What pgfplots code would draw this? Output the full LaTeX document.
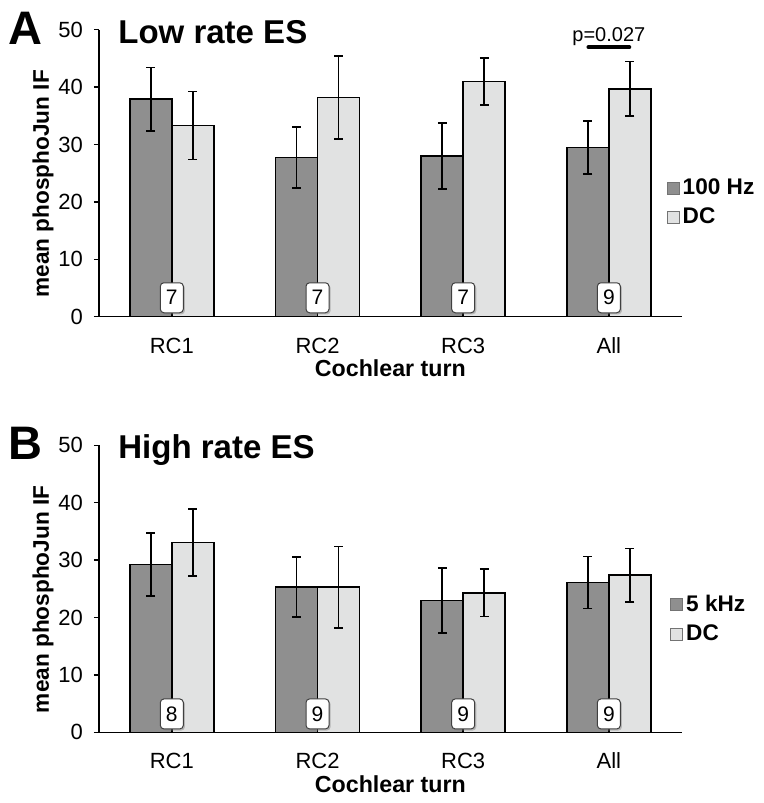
\documentclass[border=0pt]{standalone}
\usepackage{pgfplots}
\pgfplotsset{compat=1.18}
\usepackage{fontspec}
\setmainfont{Liberation Sans}
\usetikzlibrary{shadows}
\definecolor{darkbar}{HTML}{8F8F8F}
\definecolor{lightbar}{HTML}{E1E2E2}

\pgfplotstableread{
x  a     ae    b     be
0  37.9  5.5   33.3  5.9
1  27.7  5.3   38.2  7.2
2  28.0  5.75  41.0  4.1
3  29.5  4.6   39.7  4.75
}\tabA
\pgfplotstableread{
x  a     ae    b     be
0  29.2  5.5   33.1  5.85
1  25.3  5.25  25.3  7.1
2  23.0  5.65  24.3  4.1
3  26.1  4.5   27.4  4.65
}\tabB

\tikzset{
  nbox/.style={draw=black!75, fill=white, rounded corners=1.8pt, line width=0.5pt,
    minimum width=11.5pt, minimum height=15pt, inner sep=0pt,
    font=\fontsize{10.5}{12}\selectfont,
    drop shadow={shadow xshift=0.8pt, shadow yshift=-0.8pt, opacity=0.45}},
}
\pgfplotsset{
  panel/.style={
    width=291.35pt, height=143.5pt, scale only axis,
    anchor=south west,
    axis lines*=left,
    axis line style={line width=0.75pt},
    x axis line style={shorten <=-2.5pt},
    xmin=-0.5, xmax=3.5, ymin=0, ymax=50,
    xtick={0,1,2,3}, xticklabels={RC1,RC2,RC3,All},
    ytick={0,10,20,30,40,50},
    /pgf/number format/assume math mode=true,
    tick align=outside, major tick length=2.5pt,
    xtick style={draw=none},
    ytick style={line width=0.75pt, black},
    tick label style={font=\fontsize{11}{13}\selectfont},
    yticklabel style={xshift=-2pt},
    xticklabel style={anchor=base, yshift=-15.8pt},
    ylabel={mean phosphoJun IF},
    ylabel style={font=\bfseries\fontsize{11.3}{13}\selectfont, at={(axis description cs:-0.096,0.463)}, anchor=center},
    xlabel={Cochlear turn},
    xlabel style={font=\bfseries\fontsize{11.6}{13}\selectfont, at={(axis description cs:0.5,-0.209)}, anchor=base},
    ybar=0pt, bar width=21pt,
    clip=false,
    legend cell align=left,
    legend style={draw=none, fill=none, anchor=west, inner sep=0pt, row sep=3pt,
      font=\bfseries\fontsize{11.3}{13}\selectfont,
      nodes={inner xsep=1.5pt, inner ysep=1.2pt}},
  },
  sq/.style={legend image code/.code={\draw[##1, draw=black!55, line width=0.4pt] (0pt,-3pt) rectangle (6pt,3pt);}},
  errs/.style={error bars/.cd, y dir=both, y explicit,
    error bar style={line width=0.8pt, black},
    error mark options={rotate=90, line width=0.8pt, mark size=2.2pt, black}},
}

\begin{document}
\begin{tikzpicture}
\path[use as bounding box] (0,0) rectangle (382pt,401.5pt);

% Panel A
\begin{axis}[panel, at={(49.5pt,243.15pt)},
  legend style={at={(rel axis cs:0.974,0.397)}}]
\addplot[fill=darkbar, draw=black, line width=0.75pt, sq, errs]
  table[x=x, y=a, y error=ae] {\tabA};
\addlegendentry{100 Hz}
\addplot[fill=lightbar, draw=black, line width=0.75pt, sq, errs]
  table[x=x, y=b, y error=be] {\tabA};
\addlegendentry{DC}
\node[nbox] at (axis cs:0,3.3) {7};
\node[nbox] at (axis cs:1,3.3) {7};
\node[nbox] at (axis cs:2,3.3) {7};
\node[nbox] at (axis cs:3,3.3) {9};
\node[anchor=base, font=\fontsize{10}{12}\selectfont, inner sep=0pt] at (axis cs:3,47.86) {p=0.027};
\draw[line width=2pt, line cap=round] (axis cs:2.86,46.95) -- (axis cs:3.14,46.95);
\end{axis}

% Panel B
\begin{axis}[panel, at={(49.5pt,35.35pt)},
  legend style={at={(rel axis cs:0.98,0.393)}}]
\addplot[fill=darkbar, draw=black, line width=0.75pt, sq, errs]
  table[x=x, y=a, y error=ae] {\tabB};
\addlegendentry{5 kHz}
\addplot[fill=lightbar, draw=black, line width=0.75pt, sq, errs]
  table[x=x, y=b, y error=be] {\tabB};
\addlegendentry{DC}
\node[nbox] at (axis cs:0,3.2) {8};
\node[nbox] at (axis cs:1,3.2) {9};
\node[nbox] at (axis cs:2,3.2) {9};
\node[nbox] at (axis cs:3,3.2) {9};
\end{axis}

% Panel letters and titles
\node[anchor=base west, inner sep=0pt, font=\bfseries\fontsize{23.5}{26}\selectfont] at (4.15pt,379pt) {A};
\node[anchor=base west, inner sep=0pt, font=\bfseries\fontsize{16.5}{19}\selectfont] at (59pt,379.85pt) {Low rate ES};
\node[anchor=base west, inner sep=0pt, font=\bfseries\fontsize{23.5}{26}\selectfont] at (4.15pt,171.5pt) {B};
\node[anchor=base west, inner sep=0pt, font=\bfseries\fontsize{16.5}{19}\selectfont] at (59pt,172.35pt) {High rate ES};
\end{tikzpicture}
\end{document}
